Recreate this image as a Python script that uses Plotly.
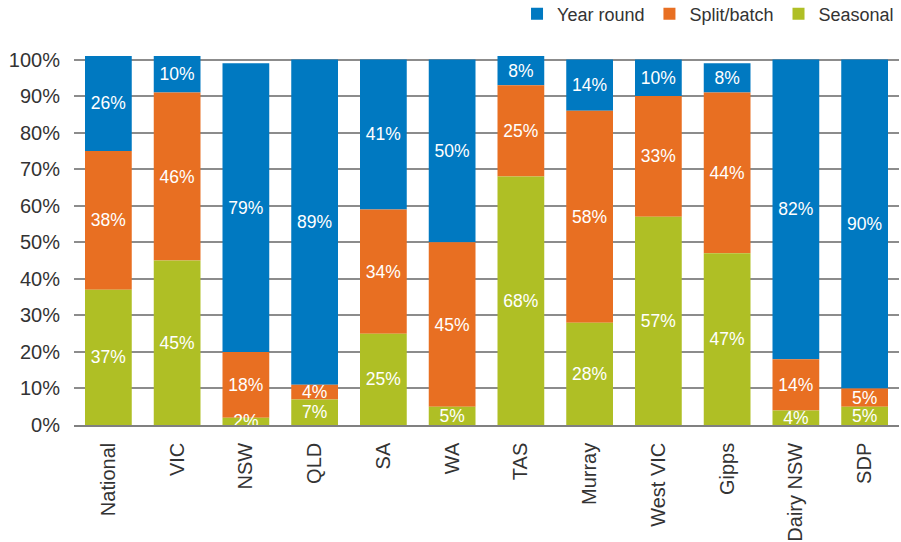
import plotly.graph_objects as go
import numpy as np

categories = ["National", "VIC", "NSW", "QLD", "SA", "WA", "TAS", "Murray",
              "West VIC", "Gipps", "Dairy NSW", "SDP"]
seasonal = [37, 45, 2, 7, 25, 5, 68, 28, 57, 47, 4, 5]
split_batch = [38, 46, 18, 4, 34, 45, 25, 58, 33, 44, 14, 5]
year_round = [26, 10, 79, 89, 41, 50, 8, 14, 10, 8, 82, 90]
y_ticks = [0, 10, 20, 30, 40, 50, 60, 70, 80, 90, 100]
y_tick_text = [f"{v}%" for v in y_ticks]

colors = {"Seasonal": "#AFBF25", "Split/batch": "#E86F22", "Year round": "#0079C1"}
FONT = "Liberation Sans"

base_split = np.array(seasonal)
base_year = np.array(seasonal) + np.array(split_batch)

fig = go.Figure()
# Draw top segments first so lower segments' labels are painted last (on top)
for name, vals, base in [("Year round", year_round, base_year),
                         ("Split/batch", split_batch, base_split),
                         ("Seasonal", seasonal, np.zeros(len(seasonal)))]:
    fig.add_trace(go.Bar(
        x=categories, y=vals, base=base, name=name,
        marker=dict(color=colors[name], line=dict(width=0)),
        text=[f"{v}%" for v in vals],
        textposition="inside", insidetextanchor="middle",
        textfont=dict(color="white", size=17.5, family=FONT),
        cliponaxis=False,
        hoverinfo="skip",
    ))

fig.update_layout(
    barmode="overlay",
    bargap=0.32,
    width=901, height=542,
    margin=dict(l=74, r=2, t=53, b=117, autoexpand=False),
    paper_bgcolor="white", plot_bgcolor="white",
    font=dict(family=FONT, color="#333333"),
    uniformtext=dict(minsize=17.5, mode="show"),
    legend=dict(orientation="h", x=0.537, xanchor="left", y=1.105, yanchor="middle",
                traceorder="normal", font=dict(size=18, color="#333333", family=FONT),
                bgcolor="rgba(0,0,0,0)"),
    showlegend=True,
)
fig.update_yaxes(range=[0, 101.8], tickvals=y_ticks, ticktext=y_tick_text,
                 showgrid=True, gridcolor="#8C8C8C", gridwidth=1.5,
                 zeroline=False, showline=False, ticks="", automargin=False,
                 tickfont=dict(size=20, color="#333333", family=FONT),
                 ticklabelstandoff=13)
fig.update_xaxes(showline=True, linecolor="#808080", linewidth=1.5, automargin=False,
                 tickangle=-90, ticks="", tickfont=dict(size=20, color="#333333", family=FONT),
                 ticklabelstandoff=8)

fig.write_html("out.html", config={"displayModeBar": False},
               post_script="document.body.style.margin='0';")
